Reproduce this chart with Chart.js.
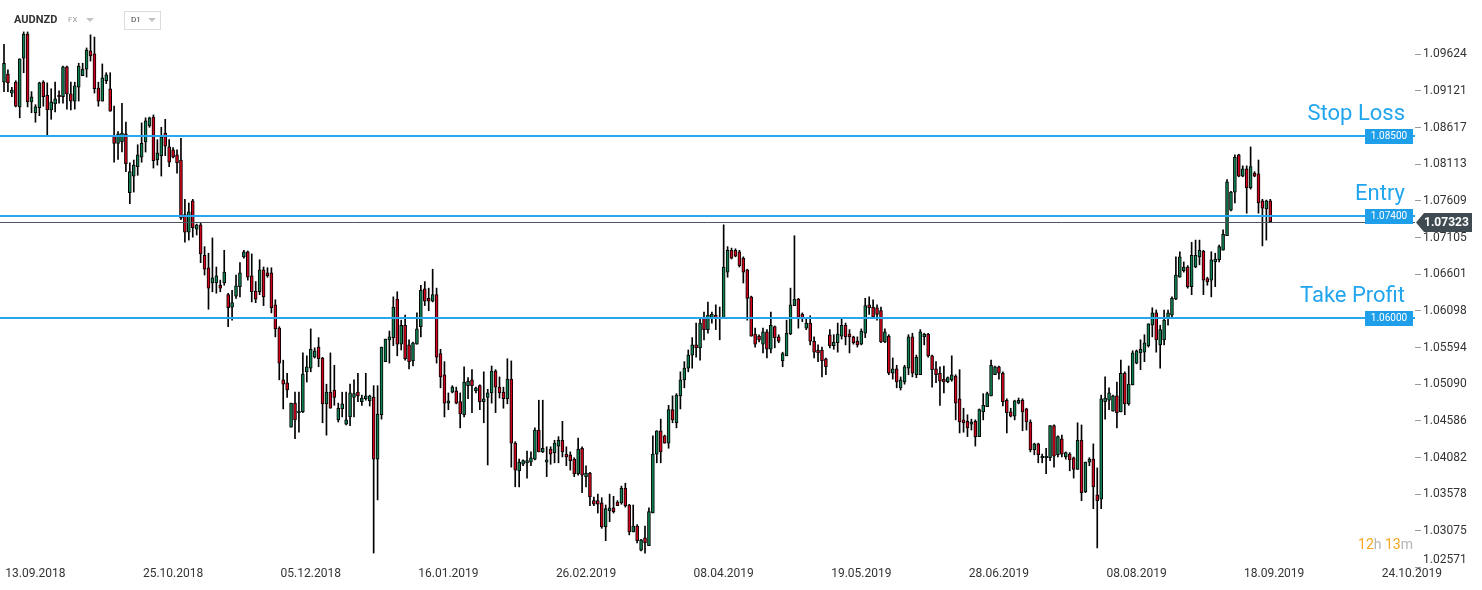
<!DOCTYPE html>
<html>
<head>
<meta charset="utf-8">
<script src="https://cdn.jsdelivr.net/npm/chart.js@4.4.0/dist/chart.umd.min.js"></script>
<style>
  html, body { margin: 0; padding: 0; background: #fff; }
  #wrap { width: 1482px; height: 590px; position: relative; }
</style>
</head>
<body>
<div id="wrap"><canvas id="chart" width="1482" height="590"></canvas></div>
<script>
// AUDNZD, D1 candles (Sun-Fri bars)
const symbol = 'AUDNZD';
const market = 'FX';
const interval = 'D1';

const tickLabels = ['13.09.2018', '25.10.2018', '05.12.2018', '16.01.2019', '26.02.2019', '08.04.2019',
    '19.05.2019', '28.06.2019', '08.08.2019', '18.09.2019', '24.10.2019'];
const firstTickBar = 8;   // bar index of the first date label
const barsPerTick = 35;

const yTicks = [1.02571, 1.03075, 1.03578, 1.04082, 1.04586, 1.05090, 1.05594, 1.06098,
    1.06601, 1.07105, 1.07609, 1.08113, 1.08617, 1.09121, 1.09624];

const levelNames = ['Stop Loss', 'Entry', 'Take Profit'];
const levelPrices = [1.08500, 1.07400, 1.06000];

const countdown = ['12', 'h', '13', 'm'];

const opens = [
    1.0924, 1.0935, 1.0909, 1.0924, 1.0890, 1.0957, 1.0990, 1.0897, 1.0882, 1.0889,
    1.0924, 1.0906, 1.0886, 1.0894, 1.0906, 1.0904, 1.0945, 1.0908, 1.0898, 1.0917,
    1.0933, 1.0942, 1.0967, 1.0963, 1.0916, 1.0898, 1.0926, 1.0915, 1.0851, 1.0840,
    1.0842, 1.0853, 1.0772, 1.0795, 1.0808, 1.0821, 1.0842, 1.0864, 1.0876, 1.0817,
    1.0823, 1.0854, 1.0835, 1.0831, 1.0824, 1.0817, 1.0742, 1.0718, 1.0761, 1.0722,
    1.0728, 1.0686, 1.0669, 1.0648, 1.0648, 1.0645, 1.0648, 1.0632, 1.0615, 1.0630,
    1.0643, 1.0684, 1.0691, 1.0658, 1.0637, 1.0636, 1.0666, 1.0662, 1.0662, 1.0618,
    1.0586, 1.0515, 1.0511, 1.0450, 1.0483, 1.0470, 1.0471, 1.0526, 1.0531, 1.0546,
    1.0560, 1.0545, 1.0482, 1.0498, 1.0501, 1.0460, 1.0475, 1.0454, 1.0464, 1.0491,
    1.0498, 1.0485, 1.0489, 1.0486, 1.0491, 1.0406, 1.0467, 1.0540, 1.0570, 1.0573,
    1.0626, 1.0564, 1.0590, 1.0563, 1.0541, 1.0564, 1.0588, 1.0640, 1.0627, 1.0623,
    1.0632, 1.0551, 1.0522, 1.0483, 1.0498, 1.0500, 1.0485, 1.0467, 1.0507, 1.0515,
    1.0500, 1.0507, 1.0485, 1.0491, 1.0497, 1.0527, 1.0505, 1.0498, 1.0489, 1.0516,
    1.0428, 1.0390, 1.0399, 1.0401, 1.0402, 1.0406, 1.0446, 1.0416, 1.0402, 1.0420,
    1.0415, 1.0424, 1.0432, 1.0413, 1.0412, 1.0406, 1.0386, 1.0421, 1.0382, 1.0387,
    1.0349, 1.0349, 1.0346, 1.0313, 1.0335, 1.0339, 1.0347, 1.0346, 1.0366, 1.0343,
    1.0306, 1.0314, 1.0281, 1.0298, 1.0287, 1.0332, 1.0413, 1.0445, 1.0438, 1.0428,
    1.0474, 1.0456, 1.0493, 1.0515, 1.0531, 1.0549, 1.0563, 1.0559, 1.0600, 1.0584,
    1.0600, 1.0604, 1.0599, 1.0599, 1.0663, 1.0693, 1.0693, 1.0691, 1.0682, 1.0666,
    1.0629, 1.0578, 1.0575, 1.0564, 1.0581, 1.0557, 1.0588, 1.0574, 1.0541, 1.0548,
    1.0578, 1.0617, 1.0626, 1.0605, 1.0586, 1.0593, 1.0568, 1.0556, 1.0556, 1.0544,
    1.0577, 1.0562, 1.0566, 1.0575, 1.0590, 1.0578, 1.0574, 1.0568, 1.0564, 1.0579,
    1.0618, 1.0615, 1.0614, 1.0610, 1.0567, 1.0575, 1.0524, 1.0530, 1.0504, 1.0512,
    1.0531, 1.0574, 1.0522, 1.0522, 1.0574, 1.0578, 1.0548, 1.0530, 1.0524, 1.0516,
    1.0512, 1.0515, 1.0520, 1.0489, 1.0460, 1.0458, 1.0454, 1.0458, 1.0437, 1.0471,
    1.0478, 1.0493, 1.0522, 1.0533, 1.0524, 1.0487, 1.0471, 1.0465, 1.0483, 1.0487,
    1.0475, 1.0457, 1.0419, 1.0427, 1.0408, 1.0408, 1.0408, 1.0452, 1.0412, 1.0434,
    1.0409, 1.0413, 1.0408, 1.0392, 1.0432, 1.0361, 1.0402, 1.0406, 1.0357, 1.0351,
    1.0485, 1.0487, 1.0472, 1.0493, 1.0471, 1.0524, 1.0482, 1.0508, 1.0538, 1.0552,
    1.0553, 1.0562, 1.0590, 1.0607, 1.0563, 1.0570, 1.0600, 1.0604, 1.0626, 1.0656,
    1.0665, 1.0670, 1.0643, 1.0670, 1.0684, 1.0692, 1.0654, 1.0652, 1.0677, 1.0680,
    1.0693, 1.0713, 1.0748, 1.0773, 1.0824, 1.0795, 1.0805, 1.0779, 1.0799, 1.0798,
    1.0761, 1.0750, 1.0761
];

const highs = [
    1.0976, 1.0941, 1.0917, 1.0926, 1.0956, 1.0993, 1.0993, 1.0911, 1.0893, 1.0924,
    1.0926, 1.0923, 1.0915, 1.0924, 1.0912, 1.0946, 1.0946, 1.0924, 1.0924, 1.0950,
    1.0950, 1.0971, 1.0989, 1.0986, 1.0924, 1.0949, 1.0937, 1.0937, 1.0891, 1.0856,
    1.0895, 1.0869, 1.0813, 1.0817, 1.0838, 1.0868, 1.0875, 1.0876, 1.0879, 1.0845,
    1.0862, 1.0873, 1.0845, 1.0834, 1.0831, 1.0847, 1.0763, 1.0758, 1.0763, 1.0729,
    1.0731, 1.0698, 1.0689, 1.0710, 1.0670, 1.0652, 1.0693, 1.0634, 1.0638, 1.0659,
    1.0676, 1.0693, 1.0692, 1.0688, 1.0650, 1.0680, 1.0670, 1.0669, 1.0669, 1.0625,
    1.0588, 1.0542, 1.0524, 1.0483, 1.0498, 1.0498, 1.0552, 1.0548, 1.0585, 1.0559,
    1.0573, 1.0546, 1.0509, 1.0552, 1.0535, 1.0483, 1.0498, 1.0498, 1.0509, 1.0515,
    1.0524, 1.0494, 1.0524, 1.0494, 1.0507, 1.0507, 1.0560, 1.0571, 1.0582, 1.0629,
    1.0636, 1.0597, 1.0604, 1.0570, 1.0567, 1.0607, 1.0645, 1.0650, 1.0641, 1.0667,
    1.0641, 1.0557, 1.0540, 1.0497, 1.0507, 1.0505, 1.0497, 1.0533, 1.0518, 1.0529,
    1.0505, 1.0508, 1.0526, 1.0502, 1.0534, 1.0529, 1.0519, 1.0505, 1.0544, 1.0541,
    1.0430, 1.0406, 1.0405, 1.0417, 1.0416, 1.0449, 1.0487, 1.0487, 1.0423, 1.0423,
    1.0432, 1.0437, 1.0458, 1.0423, 1.0416, 1.0408, 1.0435, 1.0423, 1.0397, 1.0388,
    1.0354, 1.0358, 1.0353, 1.0343, 1.0358, 1.0355, 1.0349, 1.0369, 1.0373, 1.0344,
    1.0343, 1.0316, 1.0296, 1.0314, 1.0339, 1.0438, 1.0445, 1.0461, 1.0439, 1.0480,
    1.0493, 1.0496, 1.0526, 1.0540, 1.0556, 1.0573, 1.0593, 1.0601, 1.0608, 1.0622,
    1.0608, 1.0618, 1.0615, 1.0728, 1.0698, 1.0696, 1.0695, 1.0693, 1.0684, 1.0667,
    1.0630, 1.0586, 1.0577, 1.0586, 1.0584, 1.0608, 1.0589, 1.0577, 1.0553, 1.0597,
    1.0641, 1.0713, 1.0627, 1.0607, 1.0600, 1.0603, 1.0574, 1.0563, 1.0560, 1.0545,
    1.0584, 1.0577, 1.0593, 1.0600, 1.0593, 1.0584, 1.0575, 1.0574, 1.0585, 1.0627,
    1.0629, 1.0625, 1.0618, 1.0615, 1.0585, 1.0577, 1.0545, 1.0535, 1.0519, 1.0535,
    1.0577, 1.0579, 1.0549, 1.0584, 1.0579, 1.0579, 1.0549, 1.0540, 1.0533, 1.0534,
    1.0519, 1.0548, 1.0522, 1.0529, 1.0476, 1.0467, 1.0461, 1.0460, 1.0475, 1.0496,
    1.0498, 1.0542, 1.0534, 1.0534, 1.0526, 1.0489, 1.0476, 1.0487, 1.0490, 1.0489,
    1.0476, 1.0460, 1.0428, 1.0428, 1.0413, 1.0421, 1.0452, 1.0453, 1.0438, 1.0439,
    1.0416, 1.0415, 1.0409, 1.0456, 1.0453, 1.0402, 1.0408, 1.0427, 1.0394, 1.0494,
    1.0519, 1.0504, 1.0494, 1.0512, 1.0542, 1.0526, 1.0534, 1.0555, 1.0556, 1.0570,
    1.0577, 1.0592, 1.0614, 1.0611, 1.0590, 1.0611, 1.0611, 1.0629, 1.0684, 1.0691,
    1.0677, 1.0672, 1.0704, 1.0707, 1.0707, 1.0693, 1.0656, 1.0691, 1.0689, 1.0700,
    1.0721, 1.0790, 1.0774, 1.0824, 1.0825, 1.0809, 1.0809, 1.0835, 1.0801, 1.0817,
    1.0763, 1.0762, 1.0763
];

const lows = [
    1.0911, 1.0911, 1.0904, 1.0890, 1.0875, 1.0937, 1.0890, 1.0882, 1.0869, 1.0878,
    1.0891, 1.0850, 1.0873, 1.0883, 1.0895, 1.0895, 1.0887, 1.0886, 1.0887, 1.0898,
    1.0933, 1.0931, 1.0953, 1.0909, 1.0891, 1.0898, 1.0922, 1.0884, 1.0814, 1.0818,
    1.0828, 1.0801, 1.0757, 1.0773, 1.0796, 1.0814, 1.0828, 1.0862, 1.0806, 1.0810,
    1.0795, 1.0823, 1.0808, 1.0820, 1.0799, 1.0735, 1.0704, 1.0707, 1.0711, 1.0714,
    1.0676, 1.0659, 1.0612, 1.0636, 1.0634, 1.0636, 1.0645, 1.0588, 1.0597, 1.0627,
    1.0629, 1.0682, 1.0652, 1.0622, 1.0621, 1.0632, 1.0617, 1.0656, 1.0607, 1.0574,
    1.0515, 1.0475, 1.0491, 1.0450, 1.0434, 1.0443, 1.0470, 1.0512, 1.0526, 1.0545,
    1.0533, 1.0456, 1.0439, 1.0476, 1.0480, 1.0457, 1.0464, 1.0453, 1.0452, 1.0464,
    1.0485, 1.0480, 1.0487, 1.0479, 1.0277, 1.0350, 1.0461, 1.0540, 1.0538, 1.0562,
    1.0548, 1.0556, 1.0542, 1.0530, 1.0534, 1.0564, 1.0574, 1.0617, 1.0610, 1.0622,
    1.0538, 1.0504, 1.0464, 1.0474, 1.0497, 1.0482, 1.0449, 1.0464, 1.0489, 1.0470,
    1.0497, 1.0474, 1.0456, 1.0398, 1.0483, 1.0470, 1.0490, 1.0476, 1.0482, 1.0395,
    1.0368, 1.0368, 1.0397, 1.0380, 1.0397, 1.0405, 1.0416, 1.0415, 1.0382, 1.0399,
    1.0401, 1.0401, 1.0409, 1.0397, 1.0391, 1.0382, 1.0384, 1.0360, 1.0368, 1.0342,
    1.0342, 1.0332, 1.0311, 1.0294, 1.0320, 1.0332, 1.0342, 1.0344, 1.0340, 1.0302,
    1.0306, 1.0291, 1.0280, 1.0277, 1.0287, 1.0332, 1.0401, 1.0401, 1.0428, 1.0421,
    1.0456, 1.0449, 1.0475, 1.0504, 1.0526, 1.0531, 1.0546, 1.0542, 1.0570, 1.0579,
    1.0593, 1.0584, 1.0570, 1.0599, 1.0656, 1.0681, 1.0684, 1.0670, 1.0648, 1.0597,
    1.0575, 1.0560, 1.0567, 1.0552, 1.0545, 1.0552, 1.0559, 1.0566, 1.0533, 1.0548,
    1.0577, 1.0617, 1.0586, 1.0595, 1.0584, 1.0563, 1.0545, 1.0540, 1.0519, 1.0522,
    1.0559, 1.0557, 1.0553, 1.0571, 1.0563, 1.0552, 1.0564, 1.0560, 1.0563, 1.0573,
    1.0605, 1.0600, 1.0597, 1.0566, 1.0566, 1.0522, 1.0516, 1.0504, 1.0501, 1.0509,
    1.0522, 1.0519, 1.0518, 1.0522, 1.0563, 1.0546, 1.0505, 1.0511, 1.0480, 1.0497,
    1.0511, 1.0513, 1.0460, 1.0442, 1.0443, 1.0437, 1.0446, 1.0424, 1.0437, 1.0460,
    1.0478, 1.0493, 1.0522, 1.0516, 1.0479, 1.0442, 1.0464, 1.0460, 1.0482, 1.0445,
    1.0446, 1.0416, 1.0412, 1.0401, 1.0401, 1.0386, 1.0404, 1.0395, 1.0409, 1.0409,
    1.0406, 1.0390, 1.0380, 1.0392, 1.0349, 1.0360, 1.0397, 1.0338, 1.0284, 1.0338,
    1.0461, 1.0474, 1.0472, 1.0449, 1.0471, 1.0467, 1.0480, 1.0508, 1.0537, 1.0529,
    1.0540, 1.0560, 1.0574, 1.0553, 1.0531, 1.0563, 1.0590, 1.0601, 1.0625, 1.0656,
    1.0663, 1.0641, 1.0632, 1.0669, 1.0673, 1.0632, 1.0645, 1.0629, 1.0643, 1.0677,
    1.0693, 1.0713, 1.0747, 1.0758, 1.0794, 1.0794, 1.0744, 1.0777, 1.0794, 1.0744,
    1.0699, 1.0707, 1.0732
];

const closes = [
    1.0950, 1.0923, 1.0913, 1.0891, 1.0956, 1.0990, 1.0897, 1.0904, 1.0890, 1.0923,
    1.0904, 1.0886, 1.0897, 1.0901, 1.0904, 1.0945, 1.0908, 1.0898, 1.0919, 1.0946,
    1.0942, 1.0968, 1.0960, 1.0915, 1.0898, 1.0930, 1.0934, 1.0884, 1.0840, 1.0853,
    1.0854, 1.0812, 1.0801, 1.0810, 1.0824, 1.0840, 1.0871, 1.0875, 1.0816, 1.0827,
    1.0849, 1.0836, 1.0814, 1.0821, 1.0813, 1.0737, 1.0718, 1.0746, 1.0724, 1.0728,
    1.0688, 1.0667, 1.0641, 1.0655, 1.0658, 1.0641, 1.0663, 1.0614, 1.0621, 1.0644,
    1.0662, 1.0691, 1.0656, 1.0636, 1.0626, 1.0666, 1.0629, 1.0658, 1.0614, 1.0585,
    1.0538, 1.0509, 1.0501, 1.0483, 1.0460, 1.0472, 1.0523, 1.0533, 1.0557, 1.0555,
    1.0544, 1.0482, 1.0498, 1.0476, 1.0491, 1.0476, 1.0482, 1.0460, 1.0497, 1.0496,
    1.0493, 1.0490, 1.0493, 1.0493, 1.0406, 1.0468, 1.0560, 1.0571, 1.0574, 1.0615,
    1.0564, 1.0590, 1.0544, 1.0540, 1.0566, 1.0585, 1.0638, 1.0623, 1.0623, 1.0632,
    1.0546, 1.0519, 1.0483, 1.0486, 1.0505, 1.0483, 1.0468, 1.0512, 1.0513, 1.0507,
    1.0504, 1.0485, 1.0489, 1.0497, 1.0527, 1.0505, 1.0497, 1.0489, 1.0516, 1.0428,
    1.0391, 1.0402, 1.0404, 1.0404, 1.0408, 1.0446, 1.0416, 1.0421, 1.0405, 1.0413,
    1.0428, 1.0432, 1.0416, 1.0409, 1.0404, 1.0386, 1.0420, 1.0384, 1.0387, 1.0354,
    1.0344, 1.0344, 1.0313, 1.0338, 1.0339, 1.0334, 1.0342, 1.0366, 1.0342, 1.0306,
    1.0314, 1.0294, 1.0295, 1.0291, 1.0334, 1.0413, 1.0445, 1.0416, 1.0428, 1.0474,
    1.0460, 1.0494, 1.0515, 1.0531, 1.0549, 1.0563, 1.0559, 1.0593, 1.0584, 1.0604,
    1.0605, 1.0600, 1.0600, 1.0670, 1.0693, 1.0682, 1.0685, 1.0672, 1.0663, 1.0627,
    1.0575, 1.0564, 1.0570, 1.0581, 1.0557, 1.0590, 1.0573, 1.0568, 1.0551, 1.0579,
    1.0618, 1.0626, 1.0599, 1.0599, 1.0593, 1.0568, 1.0553, 1.0552, 1.0541, 1.0533,
    1.0562, 1.0567, 1.0578, 1.0590, 1.0574, 1.0574, 1.0566, 1.0563, 1.0582, 1.0617,
    1.0614, 1.0601, 1.0605, 1.0567, 1.0581, 1.0524, 1.0530, 1.0512, 1.0515, 1.0533,
    1.0574, 1.0524, 1.0546, 1.0581, 1.0578, 1.0548, 1.0529, 1.0522, 1.0513, 1.0512,
    1.0518, 1.0522, 1.0483, 1.0457, 1.0456, 1.0449, 1.0457, 1.0437, 1.0474, 1.0480,
    1.0496, 1.0535, 1.0533, 1.0524, 1.0485, 1.0470, 1.0465, 1.0486, 1.0487, 1.0471,
    1.0457, 1.0419, 1.0427, 1.0412, 1.0410, 1.0410, 1.0452, 1.0410, 1.0437, 1.0413,
    1.0415, 1.0405, 1.0392, 1.0432, 1.0360, 1.0402, 1.0406, 1.0368, 1.0349, 1.0489,
    1.0490, 1.0497, 1.0493, 1.0470, 1.0524, 1.0482, 1.0509, 1.0552, 1.0555, 1.0557,
    1.0566, 1.0592, 1.0607, 1.0570, 1.0584, 1.0597, 1.0607, 1.0627, 1.0659, 1.0684,
    1.0670, 1.0643, 1.0686, 1.0686, 1.0693, 1.0652, 1.0650, 1.0680, 1.0681, 1.0698,
    1.0715, 1.0787, 1.0773, 1.0821, 1.0795, 1.0805, 1.0779, 1.0808, 1.0795, 1.0758,
    1.0751, 1.0761, 1.07323
];

const UP = '#0e7f50';
const DOWN = '#d0021b';
const LEVEL = '#27a6ee';
const FONT = 'Roboto, "Noto Sans", Arial, sans-serif';

const bars = opens.map((o, i) => i);
const bodies = bars.map(i => ({ x: i, y: [opens[i], closes[i]] }));
const wicks = bars.map(i => ({ x: i, y: [lows[i], highs[i]] }));
const bodyColors = bars.map(i => closes[i] >= opens[i] ? UP : DOWN);
const lastPrice = closes[closes.length - 1];

const overlay = {
    id: 'overlay',
    afterDatasetsDraw(chart) {
        const { ctx, chartArea: area, scales: { y } } = chart;
        ctx.save();

        // current price line
        const cy = Math.round(y.getPixelForValue(lastPrice)) + 0.5;
        ctx.strokeStyle = '#4a555c';
        ctx.lineWidth = 1;
        ctx.beginPath();
        ctx.moveTo(area.left, cy);
        ctx.lineTo(area.right, cy);
        ctx.stroke();

        levelPrices.forEach((price, k) => {
            const py = Math.round(y.getPixelForValue(price));
            ctx.strokeStyle = LEVEL;
            ctx.lineWidth = 2;
            ctx.beginPath();
            ctx.moveTo(area.left, py);
            ctx.lineTo(area.right, py);
            ctx.stroke();

            ctx.fillStyle = '#1f9fea';
            ctx.fillRect(area.right - 50, py - 7, 48, 15);
            ctx.fillStyle = '#fff';
            ctx.font = '10px ' + FONT;
            ctx.textAlign = 'center';
            ctx.textBaseline = 'middle';
            ctx.fillText(price.toFixed(5), area.right - 26, py + 0.5);

            ctx.fillStyle = '#22a5ef';
            ctx.font = '22px ' + FONT;
            ctx.textAlign = 'right';
            ctx.textBaseline = 'middle';
            ctx.fillText(levelNames[k], area.right - 10, py - 22);
        });
        ctx.restore();
    },
    afterDraw(chart) {
        const { ctx, chartArea: area, scales: { y } } = chart;
        ctx.save();

        // price tag on the axis
        const cy = Math.round(y.getPixelForValue(lastPrice)) + 0.5;
        const x0 = area.right + 1;
        ctx.fillStyle = '#3f4a51';
        ctx.beginPath();
        ctx.moveTo(x0, cy);
        ctx.lineTo(x0 + 8, cy - 9.5);
        ctx.lineTo(x0 + 56, cy - 9.5);
        ctx.lineTo(x0 + 56, cy + 9.5);
        ctx.lineTo(x0 + 8, cy + 9.5);
        ctx.closePath();
        ctx.fill();
        ctx.fillStyle = '#fff';
        ctx.font = 'bold 12px ' + FONT;
        ctx.textAlign = 'left';
        ctx.textBaseline = 'middle';
        ctx.fillText(lastPrice.toFixed(5), x0 + 8, cy + 0.5);

        // header
        ctx.textBaseline = 'middle';
        ctx.fillStyle = '#333';
        ctx.font = 'bold 11px ' + FONT;
        ctx.fillText(symbol, 14, 20);
        ctx.fillStyle = '#9a9a9a';
        ctx.font = '8px ' + FONT;
        ctx.fillText(market, 68, 20);
        ctx.fillStyle = '#c4c4c4';
        ctx.beginPath();
        ctx.moveTo(86, 18); ctx.lineTo(94, 18); ctx.lineTo(90, 22); ctx.closePath();
        ctx.fill();
        ctx.strokeStyle = '#dcdcdc';
        ctx.lineWidth = 1;
        ctx.strokeRect(124.5, 11.5, 36, 18);
        ctx.fillStyle = '#444';
        ctx.font = '8px ' + FONT;
        ctx.fillText(interval, 131, 20);
        ctx.fillStyle = '#c4c4c4';
        ctx.beginPath();
        ctx.moveTo(148, 18); ctx.lineTo(156, 18); ctx.lineTo(152, 22); ctx.closePath();
        ctx.fill();

        // candle countdown
        ctx.font = '14px ' + FONT;
        ctx.textAlign = 'left';
        const colors = ['#f5a623', '#b5b5b5', '#f5a623', '#b5b5b5'];
        const parts = [countdown[0], countdown[1] + ' ', countdown[2], countdown[3]];
        const total = parts.reduce((w, p) => w + ctx.measureText(p).width, 0);
        let tx = area.right - 2 - total;
        parts.forEach((p, k) => {
            ctx.fillStyle = colors[k];
            ctx.fillText(p, tx, 545);
            tx += ctx.measureText(p).width;
        });
        ctx.restore();
    }
};

const ctx = document.getElementById('chart').getContext('2d');
new Chart(ctx, {
    type: 'bar',
    data: {
        datasets: [{
            data: bodies,
            backgroundColor: bodyColors,
            borderColor: '#000',
            borderWidth: 1,
            borderSkipped: false,
            barThickness: 3,
            minBarLength: 1,
            grouped: false,
            order: 0
        }, {
            data: wicks,
            backgroundColor: '#000',
            borderWidth: 0,
            barThickness: 1,
            grouped: false,
            order: 1
        }]
    },
    options: {
        responsive: false,
        animation: false,
        layout: { padding: 0 },
        plugins: {
            legend: { display: false },
            tooltip: { enabled: false }
        },
        scales: {
            x: {
                type: 'linear',
                min: -1.017,
                max: 358.8,
                offset: false,
                grid: { display: false, drawTicks: false },
                border: { display: false },
                afterBuildTicks: (scale) => {
                    scale.ticks = tickLabels.map((t, k) => ({ value: firstTickBar + k * barsPerTick }));
                },
                afterFit: (scale) => {
                    scale.height = 24;
                    scale.paddingLeft = 0;
                    scale.paddingRight = 0;
                },
                ticks: {
                    autoSkip: false,
                    maxRotation: 0,
                    padding: 1,
                    color: '#333',
                    font: { family: FONT, size: 12 },
                    callback: (value) => tickLabels[Math.round((value - firstTickBar) / barsPerTick)] || ''
                }
            },
            y: {
                position: 'right',
                min: 1.02592,
                max: 1.10369,
                grid: { drawOnChartArea: false, drawTicks: true, tickLength: 6, color: '#9a9a9a' },
                border: { display: false },
                afterBuildTicks: (scale) => {
                    scale.ticks = yTicks.map(v => ({ value: v }));
                },
                afterFit: (scale) => {
                    scale.width = 67;
                    scale.paddingTop = 0;
                    scale.paddingBottom = 0;
                },
                ticks: {
                    padding: 2,
                    color: '#333',
                    font: { family: FONT, size: 12 },
                    // the lowest label sits a little above its tick, as in the platform
                    callback: (value, i) => i === 0 ? [value.toFixed(5), ''] : value.toFixed(5)
                }
            }
        }
    },
    plugins: [overlay]
});
</script>
</body>
</html>
